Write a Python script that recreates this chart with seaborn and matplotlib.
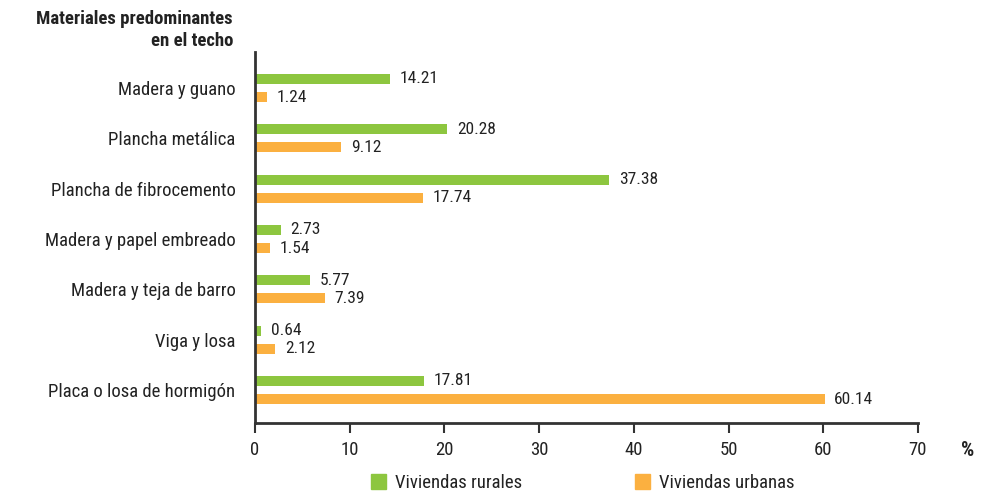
import matplotlib
matplotlib.use("Agg")
import matplotlib.pyplot as plt
import seaborn as sns
import pandas as pd

categories = ["Madera y guano", "Plancha metálica", "Plancha de fibrocemento",
              "Madera y papel embreado", "Madera y teja de barro", "Viga y losa",
              "Placa o losa de hormigón"]
rurales = [14.21, 20.28, 37.38, 2.73, 5.77, 0.64, 17.81]
urbanas = [1.24, 9.12, 17.74, 1.54, 7.39, 2.12, 60.14]
series = ["Viviendas rurales", "Viviendas urbanas"]
colors = ["#8DC63F", "#FBB040"]

df = pd.DataFrame({
    "categoria": categories * 2,
    "valor": rurales + urbanas,
    "serie": [series[0]] * len(categories) + [series[1]] * len(categories),
})

sns.set_theme(style="white")
plt.rcParams["font.family"] = ["Roboto Condensed", "DejaVu Sans"]
txt = "#222222"

fig = plt.figure(figsize=(9.98, 4.98), dpi=100)
ax = fig.add_axes([0.2555, 0.1506, 0.6643, 0.745])

sns.barplot(data=df, y="categoria", x="valor", hue="serie", palette=colors,
            orient="h", width=0.72, gap=0.45, ax=ax, legend=False, saturation=1,
            linewidth=0)

for cont in ax.containers:
    ax.bar_label(cont, fmt="%.2f", padding=7, fontsize=12.5, color=txt)

ax.set_xlim(0, 70)
ax.set_ylim(6.656, -0.716)
ax.set_xticks(range(0, 71, 10))
ax.set_xlabel("")
ax.set_ylabel("")
ax.tick_params(axis="x", direction="out", length=7, width=1.5, colors="#333333",
               labelsize=13.5, labelcolor=txt, pad=6, bottom=True)
ax.tick_params(axis="y", length=0, labelsize=13.5, labelcolor=txt, pad=14)
for s in ["top", "right"]:
    ax.spines[s].set_visible(False)
for s in ["left", "bottom"]:
    ax.spines[s].set_color("#333333")
    ax.spines[s].set_linewidth(2)

fig.text(233 / 998, 1 - 30 / 498, "Materiales predominantes\nen el techo",
         ha="right", va="center", fontsize=13.5, fontweight="bold", color=txt,
         linespacing=1.25)
fig.text(968 / 998, 1 - 450 / 498, "%", ha="center", va="center",
         fontsize=15, fontweight="bold", color=txt)

handles = [plt.Rectangle((0, 0), 1, 1, color=c) for c in colors]
fig.legend(handles, series, loc="center", bbox_to_anchor=(0.584, 0.03), ncol=2,
           frameon=False, fontsize=13.5, handlelength=0.8, handleheight=0.8,
           handletextpad=0.5, columnspacing=6, labelcolor=txt)

fig.savefig("out.png", dpi=100)
